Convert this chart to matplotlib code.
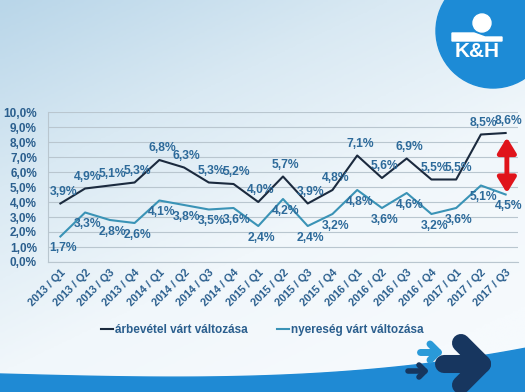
import numpy as np
import matplotlib
matplotlib.use("Agg")
import matplotlib.pyplot as plt
from matplotlib.patches import Circle, Polygon
from matplotlib.colors import LinearSegmentedColormap

categories = ["2013 / Q1", "2013 / Q2", "2013 / Q3", "2013 / Q4",
              "2014 / Q1", "2014 / Q2", "2014 / Q3", "2014 / Q4",
              "2015 / Q1", "2015 / Q2", "2015 / Q3", "2015 / Q4",
              "2016 / Q1", "2016 / Q2", "2016 / Q3", "2016 / Q4",
              "2017 / Q1", "2017 / Q2", "2017 / Q3"]
arbevetel = [3.9, 4.9, 5.1, 5.3, 6.8, 6.3, 5.3, 5.2, 4.0, 5.7, 3.9, 4.8,
             7.1, 5.6, 6.9, 5.5, 5.5, 8.5, 8.6]
nyereseg = [1.7, 3.3, 2.8, 2.6, 4.1, 3.8, 3.5, 3.6, 2.4, 4.2, 2.4, 3.2,
            4.8, 3.6, 4.6, 3.2, 3.6, 5.1, 4.5]
yticks = [0, 1, 2, 3, 4, 5, 6, 7, 8, 9, 10]
series_names = ["árbevétel várt változása", "nyereség várt változása"]

plt.rcParams['font.family'] = ['Liberation Sans', 'DejaVu Sans']

W, H = 525, 392
fig = plt.figure(figsize=(W / 100, H / 100), dpi=100)

# background
bg = fig.add_axes([0, 0, 1, 1])
bg.set_xlim(0, W)
bg.set_ylim(H, 0)
bg.axis("off")
cmap = LinearSegmentedColormap.from_list("bg", ["#b9d6e9", "#d9e9f3", "#f1f7fb", "#f6fafd"])
gy, gx = np.mgrid[0:1:200j, 0:1:200j]
grad = np.clip(0.7 * gy + 0.45 * gx, 0, 1)
bg.imshow(grad, cmap=cmap, extent=[0, W, H, 0], aspect="auto", zorder=0)

# bottom swoop
xs = np.linspace(0, W, 100)
top = 374 + 6 * np.sin(np.pi * xs / 700) - 30 * (xs / W) ** 3
bg.fill_between(xs, top, H, color="#1f8ad4", zorder=1)

# logo
bg.add_patch(Circle((493, 31), 57, color="#1d8bd6", zorder=2))
bg.add_patch(Circle((482, 23), 9, color="white", zorder=3))
bg.add_patch(Polygon([[452, 33], [474, 33], [485, 37], [502, 37], [502, 41], [452, 41]],
                     closed=True, color="white", zorder=3))
bg.text(477, 51, "K&H", color="white", fontsize=15, fontweight="bold",
        ha="center", va="center", zorder=3)

# bottom arrows
def stroke_arrow(x0, x1, y, lw, color, head):
    bg.plot([x0, x1], [y, y], color=color, lw=lw, solid_capstyle="round", zorder=4)
    bg.plot([x1 - head, x1, x1 - head], [y - head, y, y + head], color=color, lw=lw,
            solid_capstyle="round", solid_joinstyle="round", zorder=4)

stroke_arrow(420, 438, 352, 5, "#2a9ad8", 8)
stroke_arrow(408, 425, 371, 4, "#16365e", 6)
stroke_arrow(444, 482, 364, 13, "#17365f", 21)

# chart axes
ax = fig.add_axes([48 / W, 1 - 262 / H, 470 / W, 150 / H])
ax.patch.set_alpha(0)
x = np.arange(len(categories))
ax.plot(x, arbevetel, color="#1b2a3e", lw=1.5, zorder=3, label=series_names[0])
ax.plot(x, nyereseg, color="#3a93b6", lw=1.5, zorder=3, label=series_names[1])
ax.set_xlim(-0.5, len(categories) - 0.5)
ax.set_ylim(0, 10)
ax.set_yticks(yticks)
ax.set_yticklabels([f"{v:.1f}%".replace(".", ",") for v in yticks],
                   fontsize=8.5, fontweight="bold", color="#2b5f8e")
ax.set_xticks(x)
ax.set_xticklabels(categories, rotation=45, ha="right", rotation_mode="anchor",
                   fontsize=7.8, fontweight="bold", color="#2b5f8e")
ax.tick_params(axis="x", length=0, pad=4)
ax.tick_params(axis="y", length=0, pad=8)
ax.grid(axis="y", color="#b9c6cf", lw=0.8, zorder=0)
for s in ["top", "right"]:
    ax.spines[s].set_visible(False)
ax.spines["left"].set_color("#b9c6cf")
ax.spines["bottom"].set_color("#b9c6cf")

lab_color = "#2d6a9a"
for i, v in enumerate(arbevetel):
    ax.annotate(f"{v:.1f}%".replace(".", ","), (i, v), xytext=(2, 4),
                textcoords="offset points", ha="center", va="bottom",
                fontsize=8.7, fontweight="bold", color=lab_color, zorder=4)
for i, v in enumerate(nyereseg):
    ax.annotate(f"{v:.1f}%".replace(".", ","), (i, v), xytext=(2, -4),
                textcoords="offset points", ha="center", va="top",
                fontsize=8.7, fontweight="bold", color=lab_color, zorder=4)

# red double arrow
ax.annotate("", xy=(18.05, 8.3), xytext=(18.05, 4.6),
            arrowprops=dict(arrowstyle="<|-|>,head_length=0.9,head_width=0.55",
                            color="#e0141b", lw=3.5, shrinkA=0, shrinkB=0), zorder=5)

leg = fig.legend(handles=ax.get_lines(), loc="center", bbox_to_anchor=(0.5, 1 - 330 / H),
                 ncol=2, frameon=False, fontsize=8.5, handlelength=1.0, handletextpad=0.2,
                 columnspacing=2.5)
for t in leg.get_texts():
    t.set_fontweight("bold")
    t.set_color("#2b5f8e")

fig.savefig("out.png", dpi=100)
